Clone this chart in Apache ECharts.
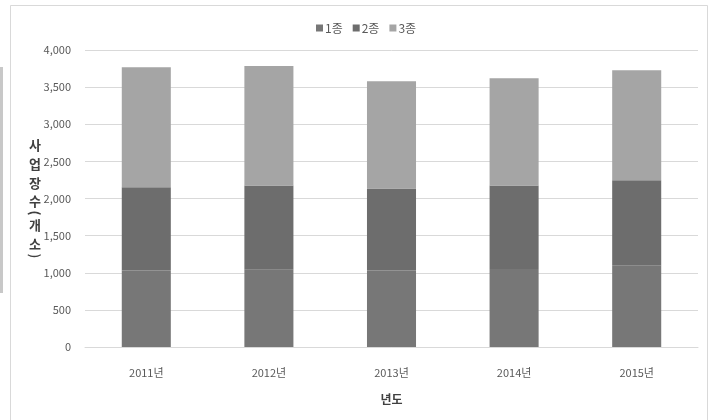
<!DOCTYPE html>
<html>
<head>
<meta charset="utf-8">
<script src="https://cdn.jsdelivr.net/npm/echarts@6/dist/echarts.min.js"></script>
<style>
  html, body { margin: 0; padding: 0; background: #fff; }
  #chart { width: 709px; height: 420px; }
</style>
</head>
<body>
<div id="chart"></div>
<script>
// 연도별 사업장 수 (종별 누적)
const years = ['2011년', '2012년', '2013년', '2014년', '2015년'];
const type1 = [1030, 1040, 1030, 1050, 1100];
const type2 = [1120, 1135, 1105, 1125, 1145];
const type3 = [1617, 1610, 1443, 1445, 1482];
const seriesNames = ['1종', '2종', '3종'];
const seriesColors = ['#777777', '#6d6d6d', '#a5a5a5'];

const FONT = '"Noto Sans CJK KR", "Noto Sans", sans-serif';
const chart = echarts.init(document.getElementById('chart'));

const values = [type1, type2, type3];
const series = seriesNames.map((name, i) => ({
  name: name,
  type: 'bar',
  stack: 'total',
  barWidth: '40%',
  itemStyle: { color: seriesColors[i] },
  data: values[i]
}));

// 세로로 쓴 y축 제목: 글자별 위치와 회전한 괄호
const titleStyle = { fontFamily: FONT, fontSize: 13, fontWeight: 'bold', fill: '#404040', align: 'center', verticalAlign: 'middle' };
const titleChars = [
  ['사', 145, 0], ['업', 164, 0], ['장', 183, 0], ['수', 201, 0],
  ['(', 213, -Math.PI / 2], ['개', 225, 0], ['소', 244, 0], [')', 256, -Math.PI / 2]
];
const titleGraphics = titleChars.map(([ch, y, rot]) => ({
  type: 'text', x: 35, y: y, rotation: rot, silent: true,
  style: Object.assign({ text: ch }, titleStyle)
}));

chart.setOption({
  animation: false,
  backgroundColor: '#fff',
  textStyle: { fontFamily: FONT },
  graphic: [
    { type: 'rect', shape: { x: 10.5, y: 5.5, width: 697, height: 430 },
      style: { fill: 'none', stroke: '#d9d9d9', lineWidth: 1 }, silent: true },
    { type: 'rect', shape: { x: 0, y: 67, width: 3, height: 226 },
      style: { fill: '#c8c8c8' }, silent: true }
  ].concat(titleGraphics),
  legend: {
    data: seriesNames,
    top: 17,
    left: 311,
    itemWidth: 7,
    itemHeight: 7,
    itemGap: 10,
    icon: 'rect',
    textStyle: { fontFamily: FONT, fontSize: 12, color: '#595959', padding: [0, 0, 0, -3] }
  },
  grid: { left: 85, right: 11, top: 50, bottom: 73, containLabel: false },
  xAxis: {
    type: 'category',
    data: years,
    name: '년도',
    nameLocation: 'middle',
    nameGap: 46,
    nameTextStyle: { fontFamily: FONT, fontSize: 12, fontWeight: 'bold', color: '#404040' },
    axisLine: { lineStyle: { color: '#d9d9d9' } },
    axisTick: { show: false },
    axisLabel: { fontFamily: FONT, fontSize: 11, color: '#595959', margin: 20 }
  },
  yAxis: {
    type: 'value',
    min: 0,
    max: 4000,
    interval: 500,
    axisLine: { show: false },
    axisTick: { show: false },
    splitLine: { lineStyle: { color: '#d9d9d9' } },
    axisLabel: {
      fontFamily: FONT, fontSize: 11, color: '#595959', margin: 14,
      formatter: v => v.toLocaleString('en-US')
    }
  },
  series: series
});
</script>
</body>
</html>
